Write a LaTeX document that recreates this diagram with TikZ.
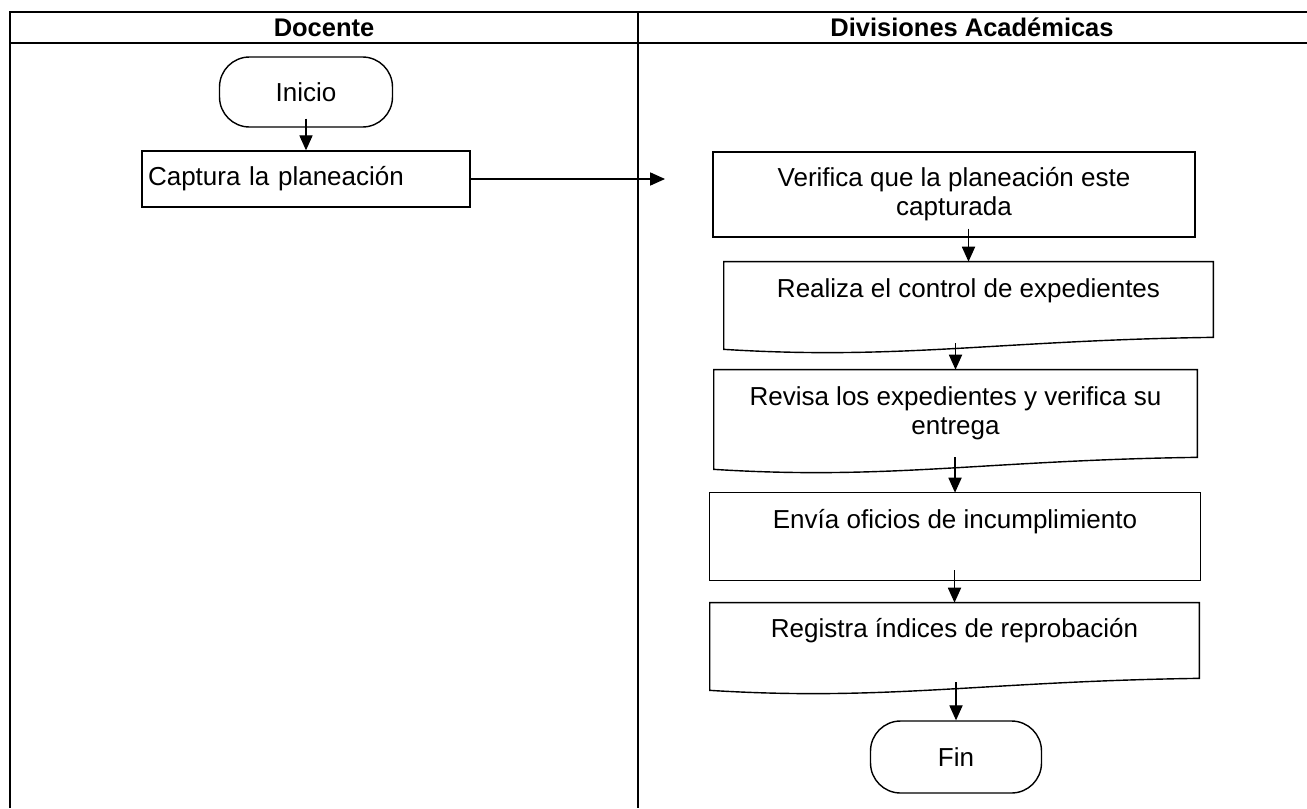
\documentclass[tikz,border=0pt]{standalone}
\usepackage{fontspec}
\setmainfont{Liberation Sans}
\usetikzlibrary{calc,arrows.meta}

% hoja con borde ondulado abajo
\newcommand{\documento}[2]{%
  \draw[linea] (#1.north west) -- (#1.north east) -- ($(#1.south east)+(0,#2)$)
    .. controls ($(#1.south east)!0.44!(#1.south west)+(0,#2+3)$) and ($(#1.south east)!0.64!(#1.south west)+(0,#2+23)$)
    .. ($(#1.south west)+(0,#2+12)$) -- cycle;}

\begin{document}
\begin{tikzpicture}[x=0.02cm,y=-0.02cm,
  font=\fontsize{14.8}{16.5}\selectfont,
  tabla/.style={line width=1.3pt},
  linea/.style={line width=0.8pt},
  titulo/.style={font=\fontsize{14.5}{16.5}\selectfont\bfseries},
  caja/.style={draw,linea,align=center,inner sep=0pt},
  hoja/.style={align=center,inner sep=0pt},
  terminal/.style={draw,linea,rounded corners=0.6cm,inner sep=0pt},
  flecha/.style={line width=0.65pt,-{Triangle[length=8.5pt,width=7.5pt]}}]
 \useasboundingbox (0,0) rectangle (1307,808);
 % tabla
 \draw[tabla] (10,808) -- (10,12) -- (1307,12);
 \draw[tabla] (10,43) -- (1307,43);
 \draw[tabla] (638,12) -- (638,808);
 \node[titulo] (docente) at (324,27.5) {Docente};
 \node[titulo] (divisiones) at (972,27.5) {Divisiones Académicas};
 % docente
 \node[terminal,minimum width=3.46cm,minimum height=1.4cm] (inicio) at (306,92) {\raisebox{-3pt}{Inicio}};
 \node[caja,minimum height=1.12cm,text width=6.32cm,inner xsep=0.12cm,align=left] (captura) at (306,179) {Captura la planeación};
 \coordinate (destino) at (665,178);
 % divisiones
 \node[caja,minimum width=9.64cm,minimum height=1.7cm] (verifica) at (954,194.5) {Verifica que la planeación este\\capturada};
 \node[hoja,minimum width=9.78cm,minimum height=1.16cm] (realiza) at (968.5,291) {Realiza el control de expedientes};
 \node[hoja,minimum width=9.66cm,minimum height=1.74cm] (revisa) at (955.5,413.5) {Revisa los expedientes y verifica su\\entrega};
 \node[hoja,minimum width=9.8cm,minimum height=1.16cm] (envia) at (955,522) {Envía oficios de incumplimiento};
 \node[hoja,minimum width=9.78cm,minimum height=1.12cm] (registra) at (954.5,631) {Registra índices de reprobación};
 \node[terminal,minimum width=3.42cm,minimum height=1.44cm] (fin) at (956,757) {Fin};
 \documento{realiza}{17}
 \documento{revisa}{0}
 \draw[linea] (envia.north west) rectangle ($(envia.south east)+(0,29)$);
 \documento{registra}{19}
 % flechas
 \draw[flecha,shorten <=-0.18cm] (inicio) -- (captura);
 \draw[flecha] (captura.east) -- (captura.east -| destino);
 \draw[flecha,shorten <=-0.18cm] (realiza.north |- verifica.south) -- (realiza.north);
 \draw[flecha,shorten <=0.46cm] (revisa.north |- realiza.south) -- (revisa.north);
 \draw[flecha] (envia.north |- revisa.south) -- (envia.north);
 \draw[flecha,shorten <=0.38cm] (registra.north |- envia.south) -- (registra.north);
 \draw[flecha,shorten <=0.46cm] (fin.north |- registra.south) -- (fin.north);
\end{tikzpicture}
\end{document}
